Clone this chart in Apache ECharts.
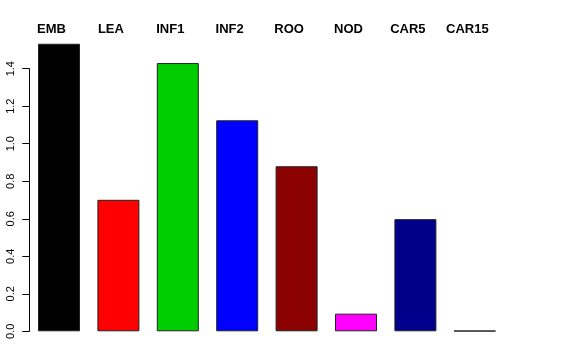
<!DOCTYPE html>
<html>
<head>
<meta charset="utf-8">
<script src="https://cdn.jsdelivr.net/npm/echarts@6/dist/echarts.min.js"></script>
<style>html,body{margin:0;padding:0;background:#fff}#c{width:576px;height:360px}</style>
</head>
<body>
<div id="c"></div>
<script>
var categories = ["EMB", "LEA", "INF1", "INF2", "ROO", "NOD", "CAR5", "CAR15"];
var values = [1.533, 0.701, 1.430, 1.125, 0.880, 0.094, 0.598, 0.003];
var colors = ["#000000", "#FF0000", "#00CD00", "#0000FF", "#8B0000", "#FF00FF", "#00008B", "#A020F0"];
var yTicks = [0, 0.2, 0.4, 0.6, 0.8, 1.0, 1.2, 1.4];

var chart = echarts.init(document.getElementById('c'), null, {renderer: 'canvas'});
chart.setOption({
  animation: false,
  backgroundColor: '#ffffff',
  grid: {left: 29.3, right: 71.5, top: 68.7, bottom: 28.7, containLabel: false},
  xAxis: {
    type: 'category',
    data: categories,
    position: 'top',
    axisLine: {show: false},
    axisTick: {show: false},
    axisLabel: {
      margin: 33,
      fontFamily: 'Liberation Sans, Arial, sans-serif',
      fontWeight: 'bold',
      fontSize: 13,
      color: '#000',
      padding: [0, 15, 0, 0],
      interval: 0
    }
  },
  yAxis: {
    type: 'value',
    min: 0,
    max: 1.4,
    interval: 0.2,
    splitLine: {show: false},
    axisLine: {show: true, lineStyle: {color: '#000', width: 1}},
    axisTick: {show: true, length: 7, lineStyle: {color: '#000'}},
    axisLabel: {
      rotate: 90,
      margin: 13,
      fontFamily: 'Liberation Sans, Arial, sans-serif',
      fontSize: 11,
      color: '#000',
      formatter: function (v) { return v.toFixed(1); }
    }
  },
  series: [{
    type: 'bar',
    clip: false,
    barWidth: 42,
    data: values.map(function (v, i) {
      return {value: v, itemStyle: {color: colors[i]}};
    }),
    itemStyle: {borderColor: '#222', borderWidth: 1}
  }]
});
</script>
</body>
</html>
